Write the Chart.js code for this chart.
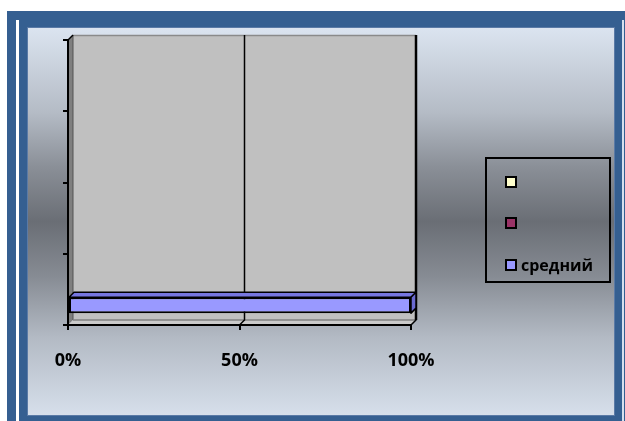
<!DOCTYPE html>
<html>
<head>
<meta charset="utf-8">
<script src="https://cdn.jsdelivr.net/npm/chart.js@4.4.1/dist/chart.umd.min.js"></script>
<style>
  html, body { margin:0; padding:0; background:#ffffff; width:625px; height:421px; overflow:hidden; }
  #frame { position:absolute; left:7px; top:11px; width:618px; height:410px; background:#355f91; }
  #wl1 { position:absolute; left:16px; top:20px; width:3px; height:401px; background:#ffffff; }
  #wl2 { position:absolute; left:622px; top:20px; width:2px; height:401px; background:#d6e0ee; }
  #inner { position:absolute; left:27px; top:27px; width:586px; height:387px;
    border:1px solid #5a7aa6;
    background:linear-gradient(to bottom, #dbe4f0 0%, #b4bbc5 22%, #8a8f97 36%, #6a6e75 50%, #868b93 64%, #b3bac4 80%, #d6dfeb 100%); }
  #c { position:absolute; left:0; top:0; }
  #legend { position:absolute; left:485px; top:157px; width:122px; height:122px; border:2px solid #000; }
  .item { position:absolute; left:18px; height:16px; display:flex; align-items:center;
    font-family:"Open Sans", sans-serif; font-weight:bold; font-size:16px; color:#000; }
  .sw { width:8px; height:8px; border:2px solid #000; margin-right:4px; }
</style>
</head>
<body>
<div id="frame"></div>
<div id="wl1"></div>
<div id="wl2"></div>
<div id="inner"></div>
<canvas id="c" width="625" height="421"></canvas>
<div id="legend"></div>
<script>
// ---- data ----
const categories = ['', '', '', ''];
const seriesNames = ['', '', 'средний'];
const seriesColors = ['#ffffcc', '#993366', '#9999ff'];
const seriesA = [null, null, null, null];
const seriesB = [null, null, null, null];
const seriesC = [null, null, null, 100];
const xTickValues = [0, 50, 100];
const xTickLabels = ['0%', '50%', '100%'];

const DX = 5, DY = -5;

const walls = {
  id: 'walls',
  beforeDraw(chart) {
    const ctx = chart.ctx, a = chart.chartArea, xs = chart.scales.x;
    const L = a.left, R = a.right, T = a.top, B = a.bottom;
    ctx.save();
    // back wall
    ctx.fillStyle = '#c0c0c0';
    ctx.fillRect(L + DX, T + DY, R - L, B - T);
    // top edge
    ctx.strokeStyle = '#8a8a8a'; ctx.lineWidth = 1.5;
    ctx.beginPath(); ctx.moveTo(L + DX, T + DY + 0.5); ctx.lineTo(R + DX, T + DY + 0.5); ctx.stroke();
    // left wall
    ctx.fillStyle = '#7f7f7f';
    ctx.beginPath();
    ctx.moveTo(L, T); ctx.lineTo(L + DX, T + DY); ctx.lineTo(L + DX, B + DY); ctx.lineTo(L, B); ctx.closePath(); ctx.fill();
    ctx.strokeStyle = '#555'; ctx.lineWidth = 1;
    ctx.beginPath(); ctx.moveTo(L + DX, T + DY); ctx.lineTo(L + DX, B + DY); ctx.stroke();
    // floor
    ctx.fillStyle = '#cacaca';
    ctx.beginPath();
    ctx.moveTo(L, B); ctx.lineTo(R, B); ctx.lineTo(R + DX, B + DY); ctx.lineTo(L + DX, B + DY); ctx.closePath(); ctx.fill();
    ctx.strokeStyle = '#808080'; ctx.lineWidth = 1.5;
    ctx.beginPath(); ctx.moveTo(L + DX, B + DY); ctx.lineTo(R + DX, B + DY); ctx.stroke();
    // grid lines on back wall and floor
    ctx.strokeStyle = '#000'; ctx.lineWidth = 1.5;
    xTickValues.forEach(v => {
      if (v === 0) return;
      const px = xs.getPixelForValue(v);
      ctx.beginPath();
      ctx.moveTo(px + DX, T + DY);
      ctx.lineTo(px + DX, B + DY);
      ctx.lineTo(px, B);
      ctx.stroke();
    });
    // right edge of back wall
    ctx.lineWidth = 2.5;
    ctx.beginPath(); ctx.moveTo(R + DX, T + DY); ctx.lineTo(R + DX, B + DY); ctx.stroke();
    // front-left corner slant
    ctx.lineWidth = 1.5;
    ctx.beginPath(); ctx.moveTo(L, T); ctx.lineTo(L + DX, T + DY); ctx.stroke();
    ctx.restore();
  },
  afterDatasetsDraw(chart) {
    const ctx = chart.ctx;
    ctx.save();
    ctx.lineJoin = 'round';
    chart.data.datasets.forEach((ds, i) => {
      const meta = chart.getDatasetMeta(i);
      meta.data.forEach((el, j) => {
        if (ds.data[j] == null) return;
        const p = el.getProps(['x', 'y', 'base', 'height'], true);
        const x0 = Math.min(p.base, p.x), x1 = Math.max(p.base, p.x);
        const y0 = p.y - p.height / 2, y1 = p.y + p.height / 2;
        ctx.strokeStyle = '#000'; ctx.lineWidth = 1.5;
        // top face
        ctx.fillStyle = '#7777e0';
        ctx.beginPath();
        ctx.moveTo(x0, y0); ctx.lineTo(x1, y0); ctx.lineTo(x1 + DX, y0 + DY); ctx.lineTo(x0 + DX, y0 + DY); ctx.closePath();
        ctx.fill(); ctx.stroke();
        // side face
        ctx.fillStyle = '#6a6ad0';
        ctx.beginPath();
        ctx.moveTo(x1, y0); ctx.lineTo(x1 + DX, y0 + DY); ctx.lineTo(x1 + DX, y1 + DY); ctx.lineTo(x1, y1); ctx.closePath();
        ctx.fill(); ctx.stroke();
      });
    });
    ctx.restore();
  }
};

const seriesData = [seriesA, seriesB, seriesC];
const chart = new Chart(document.getElementById('c'), {
  type: 'bar',
  data: {
    labels: categories,
    datasets: seriesNames.map((n, i) => ({
      label: n,
      data: seriesData[i],
      backgroundColor: seriesColors[i],
      borderColor: '#000',
      borderWidth: 2,
      borderSkipped: false,
      categoryPercentage: 0.667,
      barPercentage: 1.0,
      inflateAmount: 0
    }))
  },
  options: {
    indexAxis: 'y',
    responsive: false,
    animation: false,
    devicePixelRatio: 1,
    layout: { padding: { left: 58, right: 214, top: 40, bottom: 46 } },
    plugins: { legend: { display: false }, tooltip: { enabled: false } },
    scales: {
      y: {
        afterFit(s) { s.width = 10; },
        grid: { drawOnChartArea: false, drawTicks: true, tickLength: 5, color: '#000', lineWidth: 2, offset: true },
        border: { display: true, color: '#000', width: 2 },
        ticks: { display: true, padding: 0, font: { size: 1 } }
      },
      x: {
        min: 0, max: 100,
        afterFit(s) { s.height = 50; },
        afterBuildTicks(s) { s.ticks = xTickValues.map(v => ({ value: v })); },
        grid: { drawOnChartArea: false, drawTicks: true, tickLength: 5, color: '#000', lineWidth: 2 },
        border: { display: true, color: '#000', width: 2 },
        ticks: {
          padding: 20,
          color: '#000',
          font: { family: '"Open Sans", sans-serif', weight: 'bold', size: 18 },
          callback: (v) => xTickLabels[xTickValues.indexOf(v)]
        }
      }
    }
  },
  plugins: [walls]
});

// legend built from series arrays
const leg = document.getElementById('legend');
const rowTops = [15, 56, 98];
seriesNames.forEach((n, i) => {
  const d = document.createElement('div');
  d.className = 'item';
  d.style.top = rowTops[i] + 'px';
  const sw = document.createElement('div');
  sw.className = 'sw';
  sw.style.background = seriesColors[i];
  d.appendChild(sw);
  const t = document.createElement('span');
  t.textContent = n;
  d.appendChild(t);
  leg.appendChild(d);
});
</script>
</body>
</html>
